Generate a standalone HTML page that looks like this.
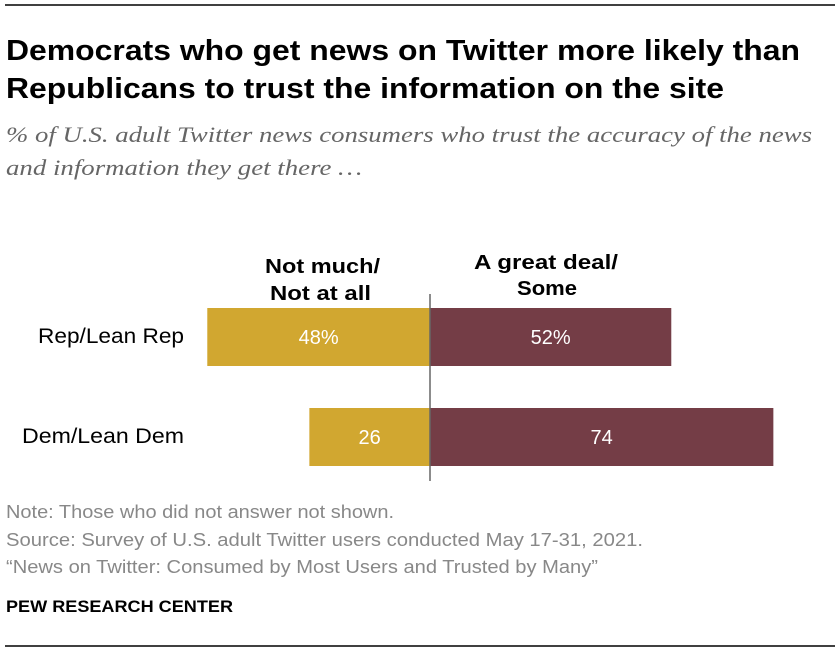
<!DOCTYPE html>
<html><head><meta charset="utf-8"><style>
body{margin:0;background:#fff;width:840px;height:654px;overflow:hidden;font-family:"Liberation Sans",sans-serif;}
</style></head><body>
<svg width="840" height="654" font-family="Liberation Sans, sans-serif">
<line x1="5" y1="5" x2="835" y2="5" stroke="#000" stroke-width="1.5"/>
<text x="6" y="60" font-size="29" font-weight="bold" fill="#000" textLength="794" lengthAdjust="spacingAndGlyphs">Democrats who get news on Twitter more likely than</text>
<text x="6" y="98" font-size="29" font-weight="bold" fill="#000" textLength="718" lengthAdjust="spacingAndGlyphs">Republicans to trust the information on the site</text>
<text x="6" y="142" font-size="22" font-style="italic" font-family="Liberation Serif, serif" fill="#666" textLength="806" lengthAdjust="spacingAndGlyphs">% of U.S. adult Twitter news consumers who trust the accuracy of the news</text>
<text x="6" y="175" font-size="22" font-style="italic" font-family="Liberation Serif, serif" fill="#666" textLength="356" lengthAdjust="spacingAndGlyphs">and information they get there …</text>
<g font-size="20" font-weight="bold" fill="#000">
<text x="265" y="273" textLength="115" lengthAdjust="spacingAndGlyphs">Not much/</text>
<text x="270" y="300" textLength="101" lengthAdjust="spacingAndGlyphs">Not at all</text>
<text x="474" y="269" textLength="144" lengthAdjust="spacingAndGlyphs">A great deal/</text>
<text x="517" y="295" textLength="60" lengthAdjust="spacingAndGlyphs">Some</text>
</g>
<g id="bars"></g>
<line x1="430" y1="294" x2="430" y2="481" stroke="#666" stroke-width="1.5"/>
<g font-size="18" fill="#888">
<text x="6" y="518" textLength="388" lengthAdjust="spacingAndGlyphs">Note: Those who did not answer not shown.</text>
<text x="6" y="546" textLength="637" lengthAdjust="spacingAndGlyphs">Source: Survey of U.S. adult Twitter users conducted May 17-31, 2021.</text>
<text x="6" y="573" textLength="592" lengthAdjust="spacingAndGlyphs">“News on Twitter: Consumed by Most Users and Trusted by Many”</text>
</g>
<text x="6" y="612" font-size="17" font-weight="bold" fill="#000" textLength="227" lengthAdjust="spacingAndGlyphs">PEW RESEARCH CENTER</text>
<line x1="5" y1="646" x2="835" y2="646" stroke="#000" stroke-width="1.5"/>
</svg>
<script>
const categories=["Rep/Lean Rep","Dem/Lean Dem"];
const notMuch=[48,26];
const greatDeal=[52,74];
const notMuchLabels=["48%","26"];
const greatDealLabels=["52%","74"];
const NS="http://www.w3.org/2000/svg";
const cx=430, scale=4.64;
function x(v){return v*scale;}
function rowY(i){return 308+i*100;}
const g=document.getElementById('bars');
function mk(tag,attrs){const e=document.createElementNS(NS,tag);for(const k in attrs)e.setAttribute(k,attrs[k]);g.appendChild(e);return e;}
categories.forEach((c,i)=>{
  const y=rowY(i),h=58;
  const r1=mk('rect',{x:cx-x(notMuch[i]),y:y,width:x(notMuch[i]),height:h,fill:'#D1A730'});
  
  
  const r2=mk('rect',{x:cx,y:y,width:x(greatDeal[i]),height:h,fill:'#743D46'});
  
  
  const t1=mk('text',{x:cx-x(notMuch[i])/2,y:y+36,'font-size':20,fill:'#fff','text-anchor':'middle'});
  t1.textContent=notMuchLabels[i];
  
  
  const t2=mk('text',{x:cx+x(greatDeal[i])/2,y:y+36,'font-size':20,fill:'#fff','text-anchor':'middle'});
  t2.textContent=greatDealLabels[i];
  
  
  const l=mk('text',{x:184,y:y+35,'font-size':21,fill:'#000','text-anchor':'end',textLength:(i===0?146:162),lengthAdjust:'spacingAndGlyphs'});
  l.textContent=c;
  
  
});
</script>
</body></html>
